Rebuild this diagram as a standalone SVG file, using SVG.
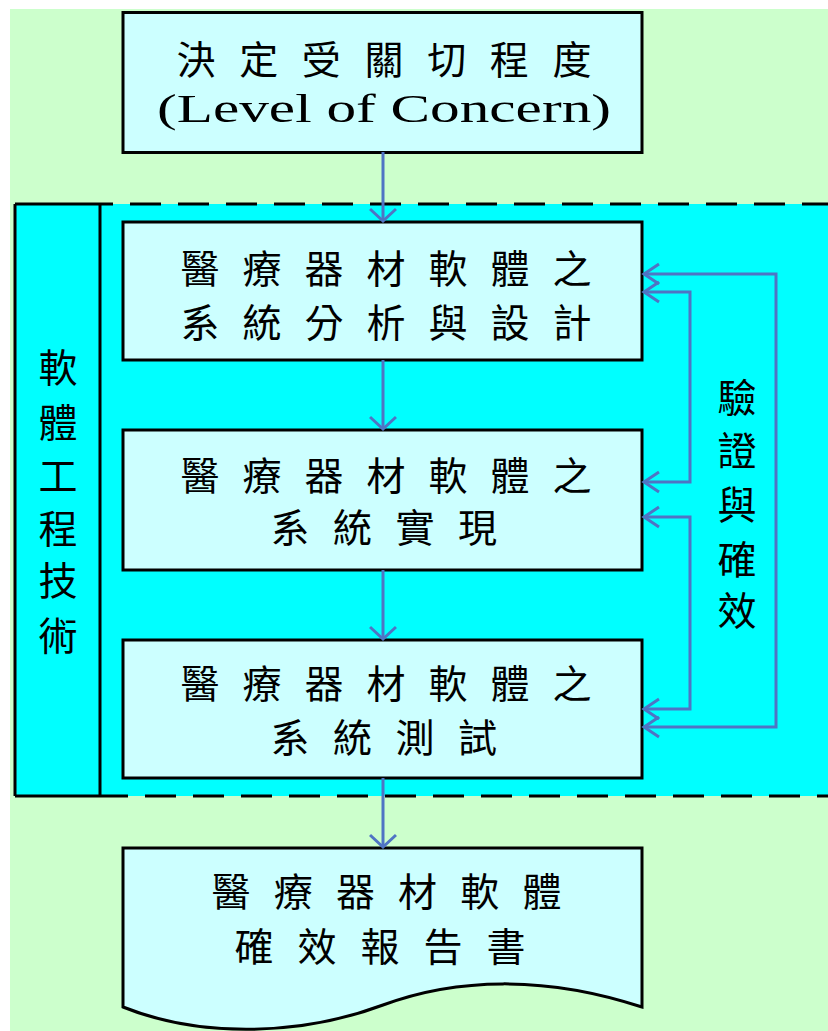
<svg xmlns="http://www.w3.org/2000/svg" width="828" height="1031" viewBox="0 0 828 1031">
<defs>
<style>
.box{fill:#CCFFFF;stroke:#000;stroke-width:3}
.cn{stroke:#4F74C4;stroke-width:3;fill:none}
.cjk{font-family:"Noto Sans CJK TC","Noto Sans CJK SC",sans-serif;font-size:39px;fill:#000;text-anchor:middle}
.en{font-family:"Liberation Serif","Times New Roman",serif;font-size:39px;fill:#000}
.dash{stroke:#000;stroke-width:3;fill:none;stroke-dasharray:31 17}
</style>
<marker id="arrV" markerUnits="userSpaceOnUse" viewBox="-14 -14 28 28" markerWidth="28" markerHeight="28" refX="0" refY="0" orient="auto-start-reverse">
<path d="M-12,-13 L0,0 L-12,13" fill="none" stroke="#4F74C4" stroke-width="3"/>
</marker>
<marker id="arrH" markerUnits="userSpaceOnUse" viewBox="-16 -12 32 24" markerWidth="32" markerHeight="24" refX="0" refY="0" orient="auto-start-reverse">
<path d="M-15,-10 L0,0 L-15,10" fill="none" stroke="#4F74C4" stroke-width="3"/>
</marker>
</defs>

<rect x="10" y="9" width="818" height="1022" fill="#CCFFCC"/>

<g id="container">
<rect x="15" y="204" width="813" height="592" fill="#00FFFF"/>
<path d="M15,204 H100 M15,204 V796 M15,796 H100 M100,204 V796" stroke="#000" stroke-width="3" fill="none"/>
<path class="dash" d="M100,204 H828" stroke-dashoffset="18"/>
<path class="dash" d="M100,796 H828" stroke-dashoffset="3"/>
<text class="cjk" x="58" y="382">軟</text>
<text class="cjk" x="58" y="437">體</text>
<text class="cjk" x="58" y="490">工</text>
<text class="cjk" x="58" y="543">程</text>
<text class="cjk" x="58" y="595">技</text>
<text class="cjk" x="58" y="650">術</text>
</g>

<g id="n1">
<rect class="box" x="123" y="12.5" width="519" height="140"/>
<text class="cjk" x="196 258.7 321.3 384 446.7 509.3 572" y="74">決定受關切程度</text>
<text class="en" x="157" y="122" textLength="454" lengthAdjust="spacingAndGlyphs">(Level of Concern)</text>
</g>

<g id="n2">
<rect class="box" x="123" y="222" width="519" height="138"/>
<text class="cjk" x="200 262 324 386 448 510 572" y="283">醫療器材軟體之</text>
<text class="cjk" x="200 262 324 386 448 510 572" y="337">系統分析與設計</text>
</g>

<g id="n3">
<rect class="box" x="123" y="430" width="519" height="140"/>
<text class="cjk" x="200 262 324 386 448 510 572" y="490">醫療器材軟體之</text>
<text class="cjk" x="290 352.5 415 477.5" y="542">系統實現</text>
</g>

<g id="n4">
<rect class="box" x="123" y="640" width="519" height="138"/>
<text class="cjk" x="200 262 324 386 448 510 572" y="698">醫療器材軟體之</text>
<text class="cjk" x="290 352.5 415 477.5" y="752">系統測試</text>
</g>

<g id="n5">
<path class="box" d="M123,848 H642 V1007 C545,975 455,978 383,1005 C300,1036 200,1038 123,1007 Z"/>
<text class="cjk" x="231 293.2 355.4 417.6 479.8 542" y="906">醫療器材軟體</text>
<text class="cjk" x="254 317 380 443 506" y="961">確效報告書</text>
</g>

<g id="label">
<text class="cjk" x="737" y="412">驗</text>
<text class="cjk" x="737" y="465">證</text>
<text class="cjk" x="737" y="519">與</text>
<text class="cjk" x="737" y="574">確</text>
<text class="cjk" x="737" y="625">效</text>
</g>

<g id="connectors">
<path class="cn" d="M383,152 V221" marker-end="url(#arrV)"/>
<path class="cn" d="M383,360 V429" marker-end="url(#arrV)"/>
<path class="cn" d="M383,570 V639" marker-end="url(#arrV)"/>
<path class="cn" d="M383,778 V847" marker-end="url(#arrV)"/>
<path class="cn" d="M644,274 H776 V727 H644" marker-start="url(#arrH)" marker-end="url(#arrH)"/>
<path class="cn" d="M644,292 H690 V482 H644" marker-start="url(#arrH)" marker-end="url(#arrH)"/>
<path class="cn" d="M644,517 H690 V709 H644" marker-start="url(#arrH)" marker-end="url(#arrH)"/>
</g>
</svg>
